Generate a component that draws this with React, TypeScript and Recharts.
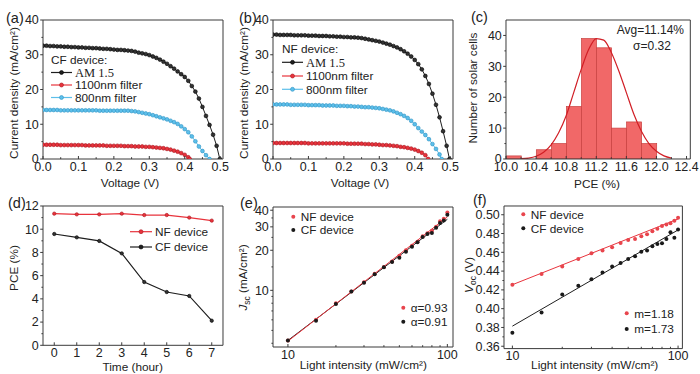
import React from 'react';
import {
  LineChart,
  ComposedChart,
  Line,
  Bar,
  Scatter,
  XAxis,
  YAxis,
  ReferenceLine,
} from 'recharts';

const SANS = '"Liberation Sans", Arial, sans-serif';
const SERIF = '"Liberation Serif", "Times New Roman", serif';
const INK = '#222';
const FRAME = '#3a3a3a';
const BLACK = '#1e1e1e';
const BLACK_EDGE = '#000';
const RED = '#e8333c';
const RED_EDGE = '#a8161e';
const BLUE = '#5dbfea';
const BLUE_EDGE = '#2f93c4';

// (a)(b) J-V curves, one value per 0.01 V step, then the Voc where J = 0
const VOLTS = [
  0, 0.01, 0.02, 0.03, 0.04, 0.05, 0.06, 0.07, 0.08, 0.09,
  0.1, 0.11, 0.12, 0.13, 0.14, 0.15, 0.16, 0.17, 0.18, 0.19,
  0.2, 0.21, 0.22, 0.23, 0.24, 0.25, 0.26, 0.27, 0.28, 0.29,
  0.3, 0.31, 0.32, 0.33, 0.34, 0.35, 0.36, 0.37, 0.38, 0.39,
  0.4, 0.41, 0.42, 0.43, 0.44, 0.45, 0.46, 0.47, 0.48, 0.49,
];

const CF_AM15 = [
  32.6, 32.6, 32.5, 32.5, 32.4, 32.4, 32.3, 32.3, 32.2, 32.2,
  32.1, 32.1, 32.0, 32.0, 31.9, 31.9, 31.8, 31.7, 31.7, 31.6,
  31.5, 31.4, 31.4, 31.3, 31.2, 31.1, 30.9, 30.6, 30.4, 30.2,
  29.9, 29.5, 29.1, 28.6, 28.0, 27.4, 26.7, 26.0, 25.2, 24.4,
  23.6, 22.5, 21.0, 19.4, 17.4, 15.0, 12.4, 9.8, 7.0, 3.8,
];
const CF_AM15_VOC = 0.499;

const CF_800 = [
  14.1, 14.1, 14.1, 14.1, 14.1, 14.0, 14.0, 14.0, 14.0, 14.0,
  14.0, 14.0, 14.0, 14.0, 14.0, 14.0, 13.9, 13.9, 13.9, 13.9,
  13.9, 13.9, 13.9, 13.9, 13.9, 13.8, 13.7, 13.5, 13.3, 13.1,
  12.9, 12.6, 12.3, 12.0, 11.7, 11.4, 11.0, 10.6, 10.1, 9.4,
  8.6, 7.7, 6.5, 5.1, 3.6, 2.3, 1.1,
];
const CF_800_VOC = 0.47;

const CF_1100 = [
  4.1, 4.1, 4.1, 4.1, 4.1, 4.0, 4.0, 4.0, 4.0, 4.0,
  4.0, 4.0, 3.9, 3.9, 3.9, 3.9, 3.9, 3.9, 3.8, 3.8,
  3.8, 3.8, 3.8, 3.7, 3.7, 3.7, 3.6, 3.6, 3.6, 3.5,
  3.5, 3.4, 3.3, 3.2, 3.1, 2.9, 2.7, 2.4, 2.1, 1.7,
  1.2, 0.5,
];
const CF_1100_VOC = 0.414;

const NF_AM15 = [
  35.8, 35.8, 35.7, 35.7, 35.7, 35.7, 35.6, 35.6, 35.6, 35.6,
  35.5, 35.5, 35.5, 35.4, 35.4, 35.4, 35.3, 35.3, 35.2, 35.2,
  35.1, 35.1, 35.0, 35.0, 34.9, 34.8, 34.6, 34.4, 34.2, 34.0,
  33.8, 33.5, 33.2, 32.9, 32.5, 32.1, 31.6, 31.0, 30.3, 29.5,
  28.5, 27.3, 25.8, 23.9, 21.6, 18.8, 15.6, 12.0, 8.0, 3.8,
];
const NF_AM15_VOC = 0.498;

const NF_800 = [
  15.7, 15.7, 15.7, 15.7, 15.7, 15.6, 15.6, 15.6, 15.6, 15.6,
  15.5, 15.5, 15.5, 15.5, 15.4, 15.4, 15.4, 15.4, 15.3, 15.3,
  15.3, 15.2, 15.2, 15.1, 15.1, 15.0, 14.9, 14.9, 14.8, 14.7,
  14.6, 14.4, 14.2, 14.0, 13.7, 13.3, 12.9, 12.4, 11.8, 11.0,
  10.0, 8.9, 7.9, 6.9, 5.7, 4.3, 2.9, 1.3,
];
const NF_800_VOC = 0.476;

const NF_1100 = [
  4.6, 4.6, 4.6, 4.6, 4.6, 4.6, 4.6, 4.6, 4.6, 4.6,
  4.5, 4.5, 4.5, 4.5, 4.5, 4.5, 4.5, 4.5, 4.5, 4.5,
  4.5, 4.4, 4.4, 4.4, 4.4, 4.4, 4.3, 4.3, 4.2, 4.2,
  4.1, 4.0, 4.0, 3.9, 3.8, 3.7, 3.5, 3.4, 3.2, 3.0,
  2.7, 2.3, 1.8, 1.1,
];
const NF_1100_VOC = 0.438;

// (c) PCE histogram
const PCE_BIN_CENTERS = [10.1, 10.3, 10.5, 10.7, 10.9, 11.1, 11.3, 11.5, 11.7, 11.9];
const PCE_COUNTS = [1, 0, 3, 5, 17, 39, 36, 10, 12, 5];
const GAUSS_X = [
  10.2, 10.3, 10.4, 10.5, 10.6, 10.7, 10.8, 10.9, 11.0, 11.1, 11.2,
  11.3, 11.4, 11.5, 11.6, 11.7, 11.8, 11.9, 12.0, 12.1, 12.2,
];
const GAUSS_Y = [
  0.1, 0.3, 0.9, 2.2, 4.6, 8.5, 14.0, 21.5, 29.0, 35.5, 39.0,
  38.5, 34.5, 28.5, 21.5, 14.5, 9.0, 5.0, 2.5, 1.0, 0.3,
];

// (d) stability
const HOURS = [0, 1, 2, 3, 4, 5, 6, 7];
const NF_PCE = [11.34, 11.28, 11.28, 11.34, 11.22, 11.22, 11.0, 10.74];
const CF_PCE = [9.59, 9.3, 8.99, 7.92, 5.45, 4.59, 4.25, 2.12];

// (e)(f) light intensity dependence
const INTENSITY = [10, 15, 20, 25, 30, 35, 40, 45, 50, 55, 60, 65, 70, 75, 80, 85, 90, 95, 100];
const JSC_NF = [4.2, 6.0, 8.0, 9.8, 11.5, 13.3, 15.0, 16.5, 18.2, 20.0, 21.6, 23.2, 25.5, 26.8, 28.0, 30.0, 33.0, 34.5, 38.5];
const JSC_CF = [4.2, 5.9, 7.9, 9.8, 11.4, 13.2, 14.9, 16.3, 17.6, 19.5, 21.3, 23.0, 25.2, 26.5, 27.0, 29.5, 32.0, 33.5, 37.0];
const VOC_NF = [0.4254, 0.4368, 0.445, 0.4529, 0.459, 0.4618, 0.4654, 0.47, 0.4732, 0.4743, 0.4771, 0.4793, 0.4825, 0.485, 0.4879, 0.4896, 0.491, 0.4936, 0.4968];
const VOC_CF = [0.3743, 0.396, 0.415, 0.4243, 0.4314, 0.4386, 0.445, 0.4486, 0.4529, 0.4557, 0.4607, 0.4618, 0.4664, 0.4689, 0.4696, 0.4743, 0.4814, 0.4754, 0.4843];
const FIT_X = [10, 100];
const JSC_NF_FIT = [4.15, 35.6];
const JSC_CF_FIT = [4.2, 34.2];
const VOC_NF_FIT = [0.4255, 0.4955];
const VOC_CF_FIT = [0.3814, 0.4838];

type Pt = { x: number; y: number };
type Fmt = (v: number) => string;
type Box = { x: number; y: number; w: number; h: number };

const zip = (xs: number[], ys: number[]): Pt[] => ys.map((y, i) => ({ x: xs[i], y }));
const jv = (j: number[], voc: number): Pt[] => zip(VOLTS, j).concat([{ x: voc, y: 0 }]);

// plot areas on the page
const BOX_A: Box = { x: 42.7, y: 20, w: 180, h: 139 };
const BOX_B: Box = { x: 272.7, y: 20, w: 180, h: 139 };
const BOX_C: Box = { x: 505.7, y: 20, w: 184.3, h: 139 };
const BOX_D: Box = { x: 42.7, y: 205.7, w: 180, h: 139.3 };
const BOX_E: Box = { x: 273.3, y: 206.7, w: 180, h: 140 };
const BOX_F: Box = { x: 504.3, y: 205.7, w: 178.4, h: 142.6 };

const PAD = { l: 44, r: 16, t: 10, b: 26 };

const near = (arr: number[], v: number) => arr.some((m) => Math.abs(m - v) < 1e-6);
const f0: Fmt = (v) => String(Math.round(v));
const f1: Fmt = (v) => v.toFixed(1);
const f2: Fmt = (v) => v.toFixed(2);

function bottomTick(majors: number[], fmt: Fmt) {
  return (p: any) => {
    const major = near(majors, p.payload.value);
    return (
      <g>
        <line x1={p.x} x2={p.x} y1={p.y} y2={p.y - (major ? 3 : 1.8)} stroke={FRAME} strokeWidth={1} />
        {major && (
          <text x={p.x} y={p.y + 11.8} textAnchor="middle" fontSize={12.5} fontFamily={SANS} fill={INK}>
            {fmt(p.payload.value)}
          </text>
        )}
      </g>
    );
  };
}

function leftTick(majors: number[], fmt: Fmt) {
  return (p: any) => {
    const major = near(majors, p.payload.value);
    return (
      <g>
        <line x1={p.x} x2={p.x - (major ? 2.8 : 1.6)} y1={p.y} y2={p.y} stroke={FRAME} strokeWidth={1} />
        {major && (
          <text x={p.x - 4.2} y={p.y + 4.4} textAnchor="end" fontSize={12.5} fontFamily={SANS} fill={INK}>
            {fmt(p.payload.value)}
          </text>
        )}
      </g>
    );
  };
}

const axisBase = {
  type: 'number' as const,
  interval: 0 as const,
  allowDataOverflow: true,
  tickSize: 0,
  tickMargin: 0,
  tickLine: false,
  axisLine: { stroke: FRAME, strokeWidth: 1 },
};

const xProps = (domain: number[], majors: number[], minors: number[], fmt: Fmt, log = false) => ({
  ...axisBase,
  dataKey: 'x',
  domain,
  scale: log ? ('log' as const) : ('auto' as const),
  ticks: [...majors, ...minors].sort((a, b) => a - b),
  tick: bottomTick(majors, fmt),
  height: PAD.b,
});

const yProps = (domain: number[], majors: number[], minors: number[], fmt: Fmt, log = false) => ({
  ...axisBase,
  dataKey: 'y',
  domain,
  scale: log ? ('log' as const) : ('auto' as const),
  ticks: [...majors, ...minors].sort((a, b) => a - b),
  tick: leftTick(majors, fmt),
  width: PAD.l,
});

function Slot({ box, children }: { box: Box; children: (w: number, h: number) => React.ReactNode }) {
  const w = box.w + PAD.l + PAD.r;
  const h = box.h + PAD.t + PAD.b;
  return (
    <div style={{ position: 'absolute', left: box.x - PAD.l, top: box.y - PAD.t, width: w, height: h }}>
      {children(w, h)}
    </div>
  );
}

const MARGIN = { top: PAD.t, right: PAD.r, bottom: 0, left: 0 };

const JV_X = [0, 0.508];
const JV_XMAJ = [0, 0.1, 0.2, 0.3, 0.4, 0.5];
const JV_XMIN = [0.05, 0.15, 0.25, 0.35, 0.45];
const JV_Y = [0, 40];
const JV_YMAJ = [0, 10, 20, 30, 40];
const JV_YMIN = [5, 15, 25, 35];

function frameLines(xd: number[], yd: number[]) {
  return [
    <ReferenceLine key="top" y={yd[1]} stroke={FRAME} strokeWidth={1} ifOverflow="visible" />,
    <ReferenceLine key="right" x={xd[1]} stroke={FRAME} strokeWidth={1} ifOverflow="visible" />,
  ];
}

const dotStyle = (fill: string, edge: string, r = 1.9) => ({ r, fill, stroke: edge, strokeWidth: 0.6 });

function JVPanel({ box, am, amVoc, f1100, f1100Voc, f800, f800Voc }: any) {
  return (
    <Slot box={box}>
      {(w, h) => (
        <LineChart width={w} height={h} margin={MARGIN}>
          <XAxis {...xProps(JV_X, JV_XMAJ, JV_XMIN, f1)} />
          <YAxis {...yProps(JV_Y, JV_YMAJ, JV_YMIN, f0)} />
          {frameLines(JV_X, JV_Y)}
          <Line data={jv(f1100, f1100Voc)} dataKey="y" stroke={RED} strokeWidth={1} dot={dotStyle(RED, RED_EDGE)} activeDot={false} isAnimationActive={false} />
          <Line data={jv(f800, f800Voc)} dataKey="y" stroke={BLUE} strokeWidth={1} dot={dotStyle(BLUE, BLUE_EDGE)} activeDot={false} isAnimationActive={false} />
          <Line data={jv(am, amVoc)} dataKey="y" stroke={BLACK} strokeWidth={1} dot={dotStyle('#333', BLACK_EDGE)} activeDot={false} isAnimationActive={false} />
        </LineChart>
      )}
    </Slot>
  );
}

// every bar is one 0.2-wide PCE bin, centred where the scale puts its bin centre
const histBar = (binPx: number) => (p: any) => {
  if (!(p.height > 0)) return <g />;
  const cx = p.x + p.width / 2;
  return <rect x={cx - binPx / 2} y={p.y} width={binPx} height={p.height} fill="#f16868" stroke="#c8403f" strokeWidth={0.7} />;
};

function HistPanel() {
  const xd = [10, 12.45];
  const yd = [0, 45];
  const bins = PCE_BIN_CENTERS.map((x, i) => ({ x, n: PCE_COUNTS[i] }));
  const curve = GAUSS_X.map((x, i) => ({ x, n: GAUSS_Y[i] }));
  const binPx = (BOX_C.w * 0.2) / (xd[1] - xd[0]);
  return (
    <Slot box={BOX_C}>
      {(w, h) => (
        <ComposedChart width={w} height={h} margin={MARGIN} data={bins} barGap={0} barCategoryGap={0}>
          <XAxis {...xProps(xd, [10, 10.4, 10.8, 11.2, 11.6, 12, 12.4], [10.2, 10.6, 11, 11.4, 11.8, 12.2], f1)} />
          <YAxis {...yProps(yd, [0, 10, 20, 30, 40], [5, 15, 25, 35], f0)} dataKey="n" />
          {frameLines(xd, yd)}
          <Bar dataKey="n" shape={histBar(binPx)} isAnimationActive={false} />
          <Line data={curve} dataKey="n" type="monotone" stroke="#d11f26" strokeWidth={1.2} dot={false} activeDot={false} isAnimationActive={false} />
        </ComposedChart>
      )}
    </Slot>
  );
}

function StabilityPanel() {
  const xd = [-0.5, 7.5];
  const yd = [0, 12];
  const rows = HOURS.map((x, i) => ({ x, nf: NF_PCE[i], cf: CF_PCE[i] }));
  return (
    <Slot box={BOX_D}>
      {(w, h) => (
        <LineChart width={w} height={h} margin={MARGIN} data={rows}>
          <XAxis {...xProps(xd, HOURS, [], f0)} />
          <YAxis {...yProps(yd, [0, 2, 4, 6, 8, 10, 12], [1, 3, 5, 7, 9, 11], f0)} dataKey={undefined} />
          {frameLines(xd, yd)}
          <Line dataKey="nf" stroke={RED} strokeWidth={1.2} dot={dotStyle(RED, RED_EDGE, 1.7)} activeDot={false} isAnimationActive={false} />
          <Line dataKey="cf" stroke={BLACK} strokeWidth={1.2} dot={dotStyle('#333', BLACK_EDGE, 1.7)} activeDot={false} isAnimationActive={false} />
        </LineChart>
      )}
    </Slot>
  );
}

const dotShape = (fill: string) => (p: any) => <circle cx={p.cx} cy={p.cy} r={2} fill={fill} />;

function LightPanel({ box, xd, yd, yMaj, yMin, yFmt, yLog, nf, cf, nfFit, cfFit }: any) {
  return (
    <Slot box={box}>
      {(w, h) => (
        <ComposedChart width={w} height={h} margin={MARGIN}>
          <XAxis {...xProps(xd, [10, 100], [20, 30, 40, 50, 60, 70, 80, 90], f0, true)} />
          <YAxis {...yProps(yd, yMaj, yMin, yFmt, yLog)} />
          {frameLines(xd, yd)}
          <Line data={zip(FIT_X, cfFit)} dataKey="y" stroke={BLACK} strokeWidth={1} dot={false} activeDot={false} isAnimationActive={false} />
          <Line data={zip(FIT_X, nfFit)} dataKey="y" stroke={RED} strokeWidth={1} dot={false} activeDot={false} isAnimationActive={false} />
          <Scatter data={zip(INTENSITY, nf)} shape={dotShape('#e8454d')} isAnimationActive={false} />
          <Scatter data={zip(INTENSITY, cf)} shape={dotShape('#1a1a1a')} isAnimationActive={false} />
        </ComposedChart>
      )}
    </Slot>
  );
}

function LegendRow({ x, y, color, edge, label, serif = false, lineLen = 21 }: any) {
  return (
    <g>
      <line x1={x} x2={x + lineLen} y1={y} y2={y} stroke={color} strokeWidth={1.2} />
      <circle cx={x + lineLen / 2} cy={y} r={2} fill={color} stroke={edge} strokeWidth={0.6} />
      <text x={x + lineLen + 3} y={y + 4.2} fontSize={serif ? 12.5 : 11.8} fontFamily={serif ? SERIF : SANS} fill={INK}>
        {label}
      </text>
    </g>
  );
}

function DotRow({ x, y, color, label }: any) {
  return (
    <g>
      <circle cx={x} cy={y} r={2} fill={color} />
      <text x={x + 7.5} y={y + 4.2} fontSize={11.8} fontFamily={SANS} fill={INK}>
        {label}
      </text>
    </g>
  );
}

function VTitle({ x, y, children }: any) {
  return (
    <text transform={`translate(${x},${y}) rotate(-90)`} textAnchor="middle" dy="0.35em" fontSize={11.8} fontFamily={SANS} fill={INK}>
      {children}
    </text>
  );
}

function HTitle({ x, y, children }: any) {
  return (
    <text x={x} y={y} textAnchor="middle" fontSize={11.8} fontFamily={SANS} fill={INK}>
      {children}
    </text>
  );
}

function Tag({ x, y, children }: any) {
  return (
    <text x={x} y={y} fontSize={14.5} fontFamily={SANS} fill={INK}>
      {children}
    </text>
  );
}

function Overlay() {
  return (
    <svg width={700} height={374} style={{ position: 'absolute', left: 0, top: 0, pointerEvents: 'none' }}>
      {/* (a) */}
      <Tag x={6} y={23}>(a)</Tag>
      <VTitle x={14} y={93}>Current density (mA/cm²)</VTitle>
      <HTitle x={130} y={187}>Voltage (V)</HTitle>
      <text x={51} y={64} fontSize={11.8} fontFamily={SANS} fill={INK}>CF device:</text>
      <LegendRow x={51} y={72.5} color={BLACK} edge={BLACK_EDGE} label="AM 1.5" serif />
      <LegendRow x={51} y={85} color={RED} edge={RED_EDGE} label="1100nm filter" />
      <LegendRow x={51} y={97.5} color={BLUE} edge={BLUE_EDGE} label="800nm filter" />

      {/* (b) */}
      <Tag x={239} y={23}>(b)</Tag>
      <VTitle x={244} y={93}>Current density (mA/cm²)</VTitle>
      <HTitle x={360} y={187}>Voltage (V)</HTitle>
      <text x={282} y={52.5} fontSize={11.8} fontFamily={SANS} fill={INK}>NF device:</text>
      <LegendRow x={282} y={62.3} color={BLACK} edge={BLACK_EDGE} label="AM 1.5" serif />
      <LegendRow x={282} y={76} color={RED} edge={RED_EDGE} label="1100nm filter" />
      <LegendRow x={282} y={89.3} color={BLUE} edge={BLUE_EDGE} label="800nm filter" />

      {/* (c) */}
      <Tag x={471} y={22}>(c)</Tag>
      <VTitle x={473} y={88}>Number of solar cells</VTitle>
      <HTitle x={597} y={188}>PCE (%)</HTitle>
      <text x={684} y={33.5} textAnchor="end" fontSize={12} fontFamily={SANS} fill={INK}>Avg=11.14%</text>
      <text x={652} y={49.5} textAnchor="middle" fontSize={12} fontFamily={SANS} fill={INK}>σ=0.32</text>

      {/* (d) */}
      <Tag x={8} y={208}>(d)</Tag>
      <VTitle x={14} y={268}>PCE (%)</VTitle>
      <HTitle x={132.7} y={370.5}>Time (hour)</HTitle>
      <LegendRow x={130} y={231.7} color={RED} edge={RED_EDGE} label="NF device" lineLen={22} />
      <LegendRow x={130} y={247} color={BLACK} edge={BLACK_EDGE} label="CF device" lineLen={22} />

      {/* (e) */}
      <Tag x={240} y={208}>(e)</Tag>
      <text transform="translate(242.5,277.5) rotate(-90)" textAnchor="middle" dy="0.35em" fontSize={11.8} fontFamily={SANS} fill={INK}>
        <tspan fontStyle="italic">J</tspan>
        <tspan fontSize={8.5} dy={3}>sc</tspan>
        <tspan dy={-3}> (mA/cm²)</tspan>
      </text>
      <HTitle x={363.3} y={368.6}>Light intensity (mW/cm²)</HTitle>
      <DotRow x={293.3} y={216.7} color="#e8454d" label="NF device" />
      <DotRow x={293.3} y={230} color="#1a1a1a" label="CF device" />
      <DotRow x={403.3} y={307.7} color="#e8454d" label="α=0.93" />
      <DotRow x={403.3} y={321.7} color="#1a1a1a" label="α=0.91" />

      {/* (f) */}
      <Tag x={473} y={205}>(f)</Tag>
      <text transform="translate(469,275) rotate(-90)" textAnchor="middle" dy="0.35em" fontSize={11.8} fontFamily={SANS} fill={INK}>
        <tspan fontStyle="italic">V</tspan>
        <tspan fontSize={8.5} dy={3}>oc</tspan>
        <tspan dy={-3}> (V)</tspan>
      </text>
      <HTitle x={594.7} y={369.3}>Light intensity (mW/cm²)</HTitle>
      <DotRow x={523.3} y={214.3} color="#e8454d" label="NF device" />
      <DotRow x={523.3} y={228.3} color="#1a1a1a" label="CF device" />
      <DotRow x={626.7} y={313.3} color="#e8454d" label="m=1.18" />
      <DotRow x={626.7} y={329} color="#1a1a1a" label="m=1.73" />
    </svg>
  );
}

export default function App() {
  return (
    <div style={{ position: 'absolute', left: 0, top: 0, width: 700, height: 374, background: '#fff', overflow: 'hidden' }}>
      <JVPanel box={BOX_A} am={CF_AM15} amVoc={CF_AM15_VOC} f1100={CF_1100} f1100Voc={CF_1100_VOC} f800={CF_800} f800Voc={CF_800_VOC} />
      <JVPanel box={BOX_B} am={NF_AM15} amVoc={NF_AM15_VOC} f1100={NF_1100} f1100Voc={NF_1100_VOC} f800={NF_800} f800Voc={NF_800_VOC} />
      <HistPanel />
      <StabilityPanel />
      <LightPanel
        box={BOX_E}
        xd={[8.06, 108.5]}
        yd={[3.75, 42.3]}
        yMaj={[10, 20, 30, 40]}
        yMin={[4, 5, 6, 7, 8, 9, 15, 25, 35]}
        yFmt={f0}
        yLog
        nf={JSC_NF}
        cf={JSC_CF}
        nfFit={JSC_NF_FIT}
        cfFit={JSC_CF_FIT}
      />
      <LightPanel
        box={BOX_F}
        xd={[8.9, 106.2]}
        yd={[0.3575, 0.5093]}
        yMaj={[0.36, 0.38, 0.4, 0.42, 0.44, 0.46, 0.48, 0.5]}
        yMin={[0.37, 0.39, 0.41, 0.43, 0.45, 0.47, 0.49]}
        yFmt={f2}
        nf={VOC_NF}
        cf={VOC_CF}
        nfFit={VOC_NF_FIT}
        cfFit={VOC_CF_FIT}
      />
      <Overlay />
    </div>
  );
}
